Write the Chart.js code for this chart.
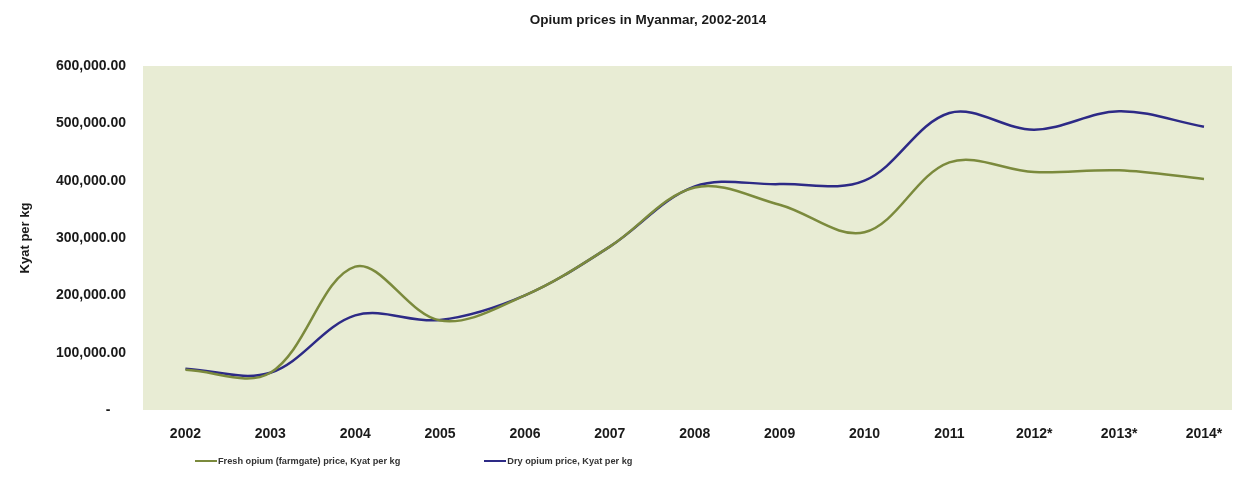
<!DOCTYPE html>
<html>
<head>
<meta charset="utf-8">
<title>Opium prices in Myanmar, 2002-2014</title>
<script src="https://cdn.jsdelivr.net/npm/chart.js@4/dist/chart.umd.min.js"></script>
<style>
  html, body { margin: 0; padding: 0; background: #fff; }
  #wrap { position: relative; width: 1240px; height: 496px; font-family: "Liberation Sans", Arial, sans-serif; }
  #title { position: absolute; top: 12px; left: 648px; transform: translateX(-50%); font-weight: bold; font-size: 13.5px; color: #1a1a1a; white-space: nowrap; }
  #legend { position: absolute; top: 456px; left: 195px; display: flex; gap: 84px; font-size: 9.2px; font-weight: bold; color: #333; }
  #legend .item { display: flex; align-items: center; white-space: nowrap; }
  #legend .swatch { width: 22px; height: 2px; margin-right: 1px; }
</style>
</head>
<body>
<div id="wrap">
  <canvas id="chart" width="1240" height="496"></canvas>
  <div id="title">Opium prices in Myanmar, 2002-2014</div>
  <div id="legend"></div>
</div>
<script>
const years = ["2002", "2003", "2004", "2005", "2006", "2007", "2008", "2009", "2010", "2011", "2012*", "2013*", "2014*"];
const freshPrice = [70000, 65000, 250000, 156000, 200000, 285000, 388000, 358000, 310000, 432000, 415000, 418000, 403000];
const dryPrice = [72000, 65000, 165000, 157000, 200000, 285000, 390000, 394000, 400000, 518000, 489000, 521000, 494000];
const freshLabel = "Fresh opium (farmgate) price, Kyat per kg";
const dryLabel = "Dry opium price, Kyat per kg";

const toPoints = (vals) => vals.map((v, i) => ({ x: i, y: v }));

// light olive fill behind the plot
const plotBg = {
  id: 'plotBg',
  beforeDraw(chart) {
    const { ctx, chartArea: a } = chart;
    ctx.save();
    ctx.fillStyle = '#e8ecd4';
    ctx.fillRect(a.left, a.top, a.right - a.left, a.bottom - a.top);
    ctx.restore();
  }
};

const tickFont = { family: 'Liberation Sans', size: 14, weight: 'bold' };

const chart = new Chart(document.getElementById('chart'), {
  type: 'line',
  data: {
    datasets: [{
      label: freshLabel,
      data: toPoints(freshPrice),
      borderColor: '#7b8a3c',
      borderWidth: 2.5,
      pointRadius: 0,
      tension: 0.35
    }, {
      label: dryLabel,
      data: toPoints(dryPrice),
      borderColor: '#2d2a86',
      borderWidth: 2.5,
      pointRadius: 0,
      tension: 0.35
    }]
  },
  options: {
    responsive: false,
    animation: false,
    layout: { padding: { top: 66, left: 18, right: 8, bottom: 0 } },
    plugins: {
      legend: { display: false },
      title: { display: false },
      tooltip: { enabled: false }
    },
    scales: {
      x: {
        type: 'linear',
        min: -0.5,
        max: 12.33,
        grid: { display: false },
        border: { display: false },
        afterBuildTicks: (scale) => { scale.ticks = years.map((_, i) => ({ value: i })); },
        afterFit: (scale) => { scale.height = 86; },
        ticks: {
          padding: 8,
          color: '#1a1a1a',
          font: tickFont,
          callback: (v) => years[v]
        }
      },
      y: {
        min: 0,
        max: 600000,
        grid: { display: false },
        border: { display: false },
        afterFit: (scale) => { scale.width = 125; },
        title: {
          display: true,
          text: 'Kyat per kg',
          color: '#1a1a1a',
          font: { family: 'Liberation Sans', size: 13, weight: 'bold' },
          padding: 0
        },
        ticks: {
          stepSize: 100000,
          padding: 9,
          color: '#1a1a1a',
          font: tickFont,
          callback: (v) => v === 0 ? '-    ' : v.toLocaleString('en-US', { minimumFractionDigits: 2 })
        }
      }
    }
  },
  plugins: [plotBg]
});

// legend row under the chart
const legend = document.getElementById('legend');
chart.data.datasets.forEach((ds) => {
  const item = document.createElement('span');
  item.className = 'item';
  const sw = document.createElement('span');
  sw.className = 'swatch';
  sw.style.background = ds.borderColor;
  item.appendChild(sw);
  item.appendChild(document.createTextNode(ds.label));
  legend.appendChild(item);
});
</script>
</body>
</html>
